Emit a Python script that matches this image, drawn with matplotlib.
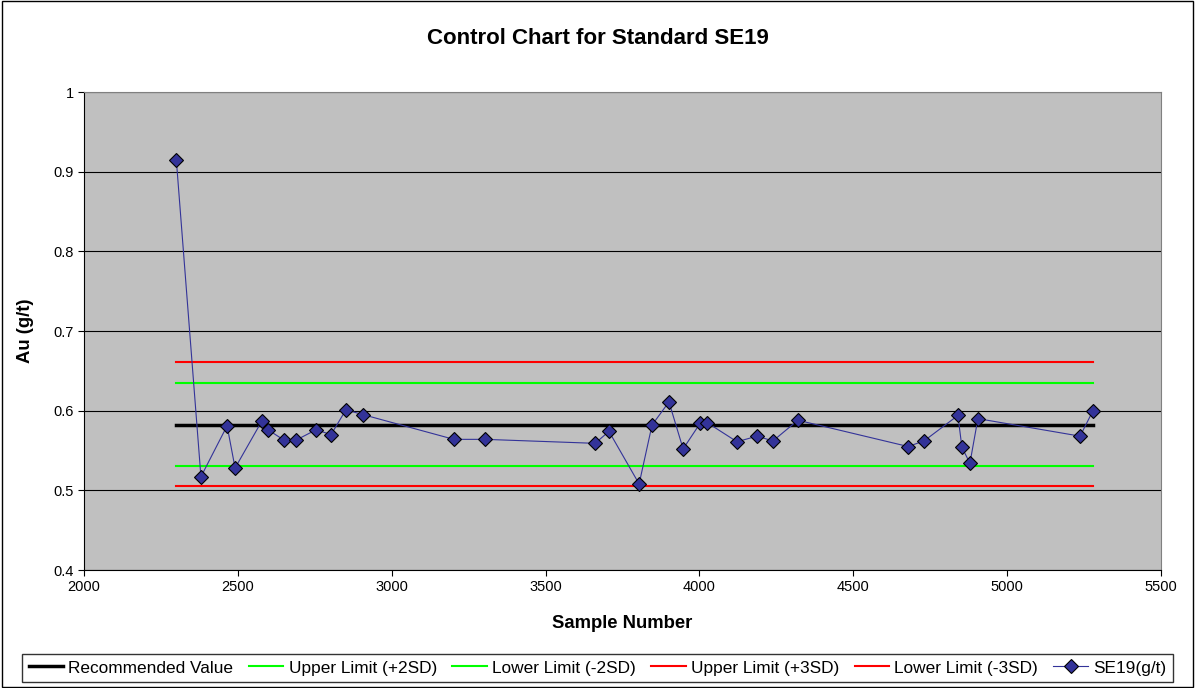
import matplotlib.pyplot as plt
from matplotlib.patches import Rectangle

plt.rcParams['font.family'] = ['Liberation Sans', 'DejaVu Sans']

# sample data
sample_no = [2300, 2380, 2465, 2491, 2578, 2598, 2650, 2689, 2754, 2803,
             2851, 2907, 3202, 3303, 3661, 3706, 3804, 3846, 3901, 3947,
             4002, 4025, 4122, 4187, 4239, 4320, 4678, 4730, 4840, 4853,
             4879, 4905, 5237, 5279]
au = [0.915, 0.517, 0.581, 0.528, 0.587, 0.576, 0.563, 0.563, 0.576, 0.570,
      0.601, 0.595, 0.564, 0.564, 0.559, 0.574, 0.508, 0.582, 0.611, 0.552,
      0.584, 0.585, 0.561, 0.568, 0.562, 0.588, 0.555, 0.562, 0.594, 0.554,
      0.534, 0.590, 0.568, 0.600]

recommended = 0.582
upper_2sd = 0.635
lower_2sd = 0.530
upper_3sd = 0.661
lower_3sd = 0.505

fig = plt.figure(figsize=(11.95, 6.88), dpi=100)
ax = fig.add_axes([84 / 1195, 1 - 570 / 688, (1161 - 84) / 1195, (570 - 92) / 688])
ax.set_facecolor('#C0C0C0')

n = len(sample_no)
ax.plot(sample_no, [recommended] * n, color='black', lw=2.5, label='Recommended Value')
ax.plot(sample_no, [upper_2sd] * n, color='#00FF00', lw=1.5, label='Upper Limit (+2SD)')
ax.plot(sample_no, [lower_2sd] * n, color='#00FF00', lw=1.5, label='Lower Limit (-2SD)')
ax.plot(sample_no, [upper_3sd] * n, color='#FF0000', lw=1.5, label='Upper Limit (+3SD)')
ax.plot(sample_no, [lower_3sd] * n, color='#FF0000', lw=1.5, label='Lower Limit (-3SD)')
ax.plot(sample_no, au, color='#333399', lw=0.8, marker='D', markersize=7,
        markerfacecolor='#333399', markeredgecolor='black', markeredgewidth=0.8,
        label='SE19(g/t)')

ax.set_xlim(2000, 5500)
ax.set_ylim(0.4, 1.0)
ax.set_xticks(range(2000, 5501, 500))
ax.set_yticks([0.4, 0.5, 0.6, 0.7, 0.8, 0.9, 1.0])
ax.set_yticklabels(['0.4', '0.5', '0.6', '0.7', '0.8', '0.9', '1'])
ax.yaxis.grid(True, color='black', lw=0.8)
ax.set_axisbelow(True)
ax.tick_params(direction='out', length=4, labelsize=10.5, color='black')
for s in ['top', 'right']:
    ax.spines[s].set_color('#808080')
for s in ['left', 'bottom']:
    ax.spines[s].set_color('black')

ax.set_xlabel('Sample Number', fontsize=13.3, fontweight='bold', labelpad=15)
ax.set_ylabel('Au (g/t)', fontsize=13.3, fontweight='bold', labelpad=14)
fig.text(0.5, 1 - 39 / 688, 'Control Chart for Standard SE19', ha='center', va='center',
         fontsize=16, fontweight='bold')

leg = fig.legend(loc='center', bbox_to_anchor=(0.5, 1 - 668 / 688), ncol=6,
                 fontsize=12.4, frameon=True, fancybox=False, edgecolor='black',
                 handlelength=2.0, handletextpad=0.3, columnspacing=0.9,
                 borderpad=0.4)
leg.get_frame().set_linewidth(1)

fig.patches.append(Rectangle((0.002, 0.002), 0.996, 0.996, transform=fig.transFigure,
                             fill=False, edgecolor='black', lw=1))

fig.savefig('out.png', dpi=100)
